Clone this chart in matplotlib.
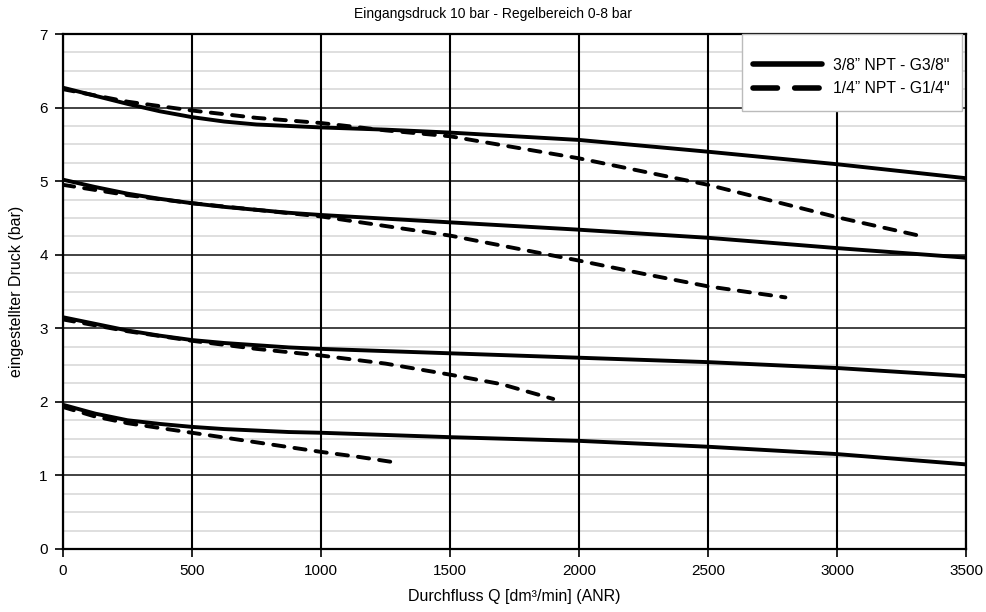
import matplotlib.pyplot as plt
from matplotlib.lines import Line2D
from matplotlib.patches import Rectangle
from matplotlib.ticker import MultipleLocator

plt.rcParams['font.family'] = ['Liberation Sans', 'DejaVu Sans']

# 3/8" NPT - G3/8" (solid curves)
x_solid = [0, 125, 250, 375, 500, 625, 750, 875, 1000, 1250, 1500, 2000, 2500, 3000, 3500]
solid_6 = [6.27, 6.16, 6.05, 5.95, 5.87, 5.81, 5.77, 5.75, 5.73, 5.70, 5.66, 5.56, 5.40, 5.23, 5.04]
solid_5 = [5.02, 4.92, 4.83, 4.76, 4.70, 4.65, 4.61, 4.57, 4.54, 4.49, 4.44, 4.34, 4.23, 4.09, 3.96]
solid_3 = [3.15, 3.06, 2.97, 2.90, 2.84, 2.80, 2.77, 2.74, 2.72, 2.69, 2.66, 2.60, 2.54, 2.46, 2.35]
solid_2 = [1.96, 1.84, 1.75, 1.70, 1.66, 1.63, 1.61, 1.59, 1.58, 1.55, 1.52, 1.47, 1.39, 1.29, 1.15]

# 1/4" NPT - G1/4" (dashed curves)
x_dash_6 = [0, 250, 500, 750, 1000, 1250, 1500, 1750, 2000, 2250, 2500, 2750, 3000, 3330]
dash_6 = [6.25, 6.08, 5.96, 5.86, 5.79, 5.69, 5.61, 5.46, 5.31, 5.13, 4.95, 4.73, 4.51, 4.25]
x_dash_5 = [0, 250, 500, 750, 1000, 1250, 1500, 1750, 2000, 2250, 2500, 2800]
dash_5 = [4.95, 4.81, 4.70, 4.61, 4.52, 4.39, 4.26, 4.09, 3.92, 3.74, 3.57, 3.42]
x_dash_3 = [0, 250, 500, 750, 1000, 1250, 1500, 1700, 1900]
dash_3 = [3.12, 2.96, 2.83, 2.72, 2.63, 2.52, 2.37, 2.24, 2.04]
x_dash_2 = [0, 125, 250, 500, 750, 1000, 1150, 1300]
dash_2 = [1.93, 1.80, 1.71, 1.58, 1.45, 1.32, 1.25, 1.17]

labels = ['3/8” NPT - G3/8"', '1/4” NPT - G1/4"']

fig = plt.figure(figsize=(9.86, 6.12), dpi=100)
ax = fig.add_axes([63/986, 1 - 549/612, 903/986, 515/612])

# grid
ax.yaxis.set_minor_locator(MultipleLocator(0.25))
ax.grid(which='minor', axis='y', color='#d9d9d9', lw=1.2)
ax.grid(which='major', axis='y', color='#222222', lw=1.2)
ax.grid(which='major', axis='x', color='black', lw=1.5)
ax.set_axisbelow(True)
# vertical grid drawn over the horizontal ones
ax.yaxis.set_zorder(0.5)
ax.xaxis.set_zorder(0.6)

lw = 2.8
for ys in [solid_6, solid_5, solid_3, solid_2]:
    ax.plot(x_solid, ys, color='black', lw=lw, solid_capstyle='round',
            solid_joinstyle='round', zorder=3)
for xs, ys in [(x_dash_6, dash_6), (x_dash_5, dash_5), (x_dash_3, dash_3), (x_dash_2, dash_2)]:
    ax.plot(xs, ys, color='black', lw=lw, dashes=(2.9, 2.6), dash_capstyle='round', zorder=3)

ax.set_xlim(0, 3500)
ax.set_ylim(0, 7)
ax.xaxis.set_major_locator(MultipleLocator(500))
ax.yaxis.set_major_locator(MultipleLocator(1))
ax.tick_params(which='major', direction='out', length=6, width=1.2, labelsize=11,
               colors='black', pad=5)
ax.tick_params(which='minor', length=0)
for s in ax.spines.values():
    s.set_linewidth(1.6)
    s.set_color('black')

fig.text(0.5, 1 - 14/612, 'Eingangsdruck 10 bar - Regelbereich 0-8 bar',
         fontsize=10, ha='center', va='center')
ax.set_xlabel('Durchfluss Q [dm³/min] (ANR)', fontsize=11.5, labelpad=8)
ax.set_ylabel('eingestellter Druck (bar)', fontsize=11.5, labelpad=11)

# legend box
ax.add_patch(Rectangle(((742 - 63)/903, (549 - 111)/515), 220/903, 77/515,
                       transform=ax.transAxes, facecolor='white', edgecolor='#bbbbbb',
                       lw=1.0, zorder=4, clip_on=False))
handles = [Line2D([], [], color='black', lw=4, solid_capstyle='round'),
           Line2D([], [], color='black', lw=4, dashes=(4.4, 3.1), dash_capstyle='round')]
leg = ax.legend(handles, labels, loc='center left',
                bbox_to_anchor=((753 - 63)/903, (549 - 77)/515), fontsize=11.3,
                handlelength=4.4, handletextpad=0.7, frameon=False, borderpad=0,
                labelspacing=0.55, borderaxespad=0)
leg.set_zorder(5)

fig.savefig('out.png', dpi=100)
